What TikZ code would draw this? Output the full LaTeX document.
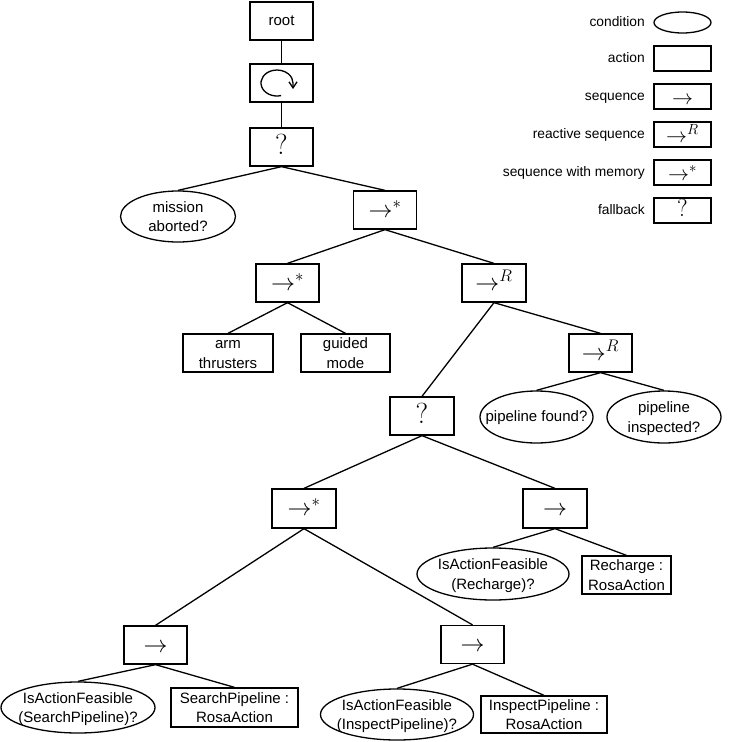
\RequirePackage{fix-cm}
\documentclass[tikz,border=0pt]{standalone}
\usepackage[no-math]{fontspec}
\setmainfont{Liberation Sans}
\usetikzlibrary{shapes.geometric,arrows.meta}

\newcommand{\zb}[2]{\makebox[0pt]{\raisebox{#1}[0pt][0pt]{#2}}}
\newcommand{\tl}[1]{\zb{-5.4pt}{\fontsize{15}{19.4}\selectfont\begin{tabular}{@{}c@{}}#1\end{tabular}}}
\newcommand{\tone}[1]{\zb{-4pt}{\fontsize{15}{19.4}\selectfont\begin{tabular}{@{}c@{}}#1\end{tabular}}}
\newcommand{\tseq}{\zb{-7pt}{\fontsize{24}{24}\selectfont$\rightarrow$}}
\newcommand{\tsm}{\zb{-7pt}{\fontsize{24}{24}\selectfont$\rightarrow^*$}}
\newcommand{\trs}{\zb{-7pt}{\fontsize{24}{24}\selectfont$\rightarrow^R$}}
\newcommand{\tfb}{\zb{-7pt}{\fontsize{29}{29}\selectfont$?$}}
\newcommand{\lseq}{\zb{-8pt}{\fontsize{21}{21}\selectfont$\rightarrow$}}
\newcommand{\lsm}{\zb{-8pt}{\fontsize{21}{21}\selectfont$\rightarrow^*$}}
\newcommand{\lrs}{\zb{-8pt}{\fontsize{21}{21}\selectfont$\rightarrow^R$}}
\newcommand{\lfb}{\zb{-6.2pt}{\fontsize{24.5}{25}\selectfont$?$}}

\tikzset{
  bx/.style n args={2}{draw, rectangle, line width=1.3pt, inner sep=0pt,
    minimum width=#1pt, minimum height=#2pt},
  el/.style n args={2}{draw, ellipse, line width=1.3pt, inner sep=0pt,
    minimum width=#1pt, minimum height=#2pt},
  conn/.style={line width=1.3pt},
  lab/.style={anchor=east, inner sep=0pt, text height=10pt, text depth=3pt,
    font=\fontsize{13.8}{16}\selectfont},
}

\begin{document}
\begin{tikzpicture}[x=1pt,y=1pt]
\useasboundingbox (0,0) rectangle (756,-742);

% tree nodes
\node[bx={63}{38}] (root) at (281.5,-21) {\tone{root}};
\node[bx={63}{38}] (loop) at (281.5,-83) {};
\node[bx={63}{38}] (fb1) at (281.5,-147) {\tfb};
\node[el={115}{51}] (mission) at (178,-216.5) {\tl{mission\\aborted?}};
\node[bx={63}{38}] (sm1) at (385,-210) {\tsm};
\node[bx={63}{38}] (sm2) at (287.5,-283) {\tsm};
\node[bx={90}{38}] (arm) at (228,-353) {\tl{arm\\thrusters}};
\node[bx={89}{38}] (guided) at (345.5,-353) {\tl{guided\\mode}};
\node[bx={64}{38}] (rs1) at (494,-283) {\trs};
\node[bx={63}{38}] (rs2) at (600.5,-353) {\trs};
\node[bx={64}{38}] (fb2) at (422,-416) {\tfb};
\node[el={113}{52}] (found) at (536.5,-417) {\tone{pipeline found?}};
\node[el={114}{52}] (insp) at (664,-417) {\tl{pipeline\\inspected?}};
\node[bx={64}{39}] (sm3) at (304,-508.5) {\tsm};
\node[bx={64}{39}] (seqR) at (555,-508.5) {\tseq};
\node[el={152}{52}] (feasR) at (493,-574) {\tl{IsActionFeasible\\(Recharge)?}};
\node[bx={89}{38}] (rech) at (626.5,-575) {\tl{Recharge :\\RosaAction}};
\node[bx={63}{38}] (seqS) at (155.5,-645) {\tseq};
\node[el={154}{51}] (feasS) at (78,-707.5) {\tl{IsActionFeasible\\(SearchPipeline)?}};
\node[bx={127}{39}] (search) at (234.5,-707.5) {\tl{SearchPipeline :\\RosaAction}};
\node[bx={63}{38}] (seqI) at (472.5,-644.5) {\tseq};
\node[el={153}{51}] (feasI) at (397,-714.5) {\tl{IsActionFeasible\\(InspectPipeline)?}};
\node[bx={126}{37}] (inspA) at (544,-714.5) {\tl{InspectPipeline :\\RosaAction}};

% loop symbol
\draw[line width=1.3pt, -{Straight Barb[length=6pt,width=8pt]}]
  ([shift={(-0.36,-12.56)}]loop.center) arc[start angle=285, end angle=0, x radius=16, y radius=13] -- ++(0,-6);

% connectors
\draw[conn] (root.south) -- (loop.north);
\draw[conn] (loop.south) -- (fb1.north);
\draw[conn] (fb1.south) -- (mission.north);
\draw[conn] (fb1.south) -- (sm1.north);
\draw[conn] (sm1.south) -- (sm2.north);
\draw[conn] (sm1.south) -- (rs1.north);
\draw[conn] (sm2.south) -- (arm.north);
\draw[conn] (sm2.south) -- (guided.north);
\draw[conn] (rs1.south) -- (fb2.north);
\draw[conn] (rs1.south) -- (rs2.north);
\draw[conn] (rs2.south) -- (found.north);
\draw[conn] (rs2.south) -- (insp.north);
\draw[conn] (fb2.south) -- (sm3.north);
\draw[conn] (fb2.south) -- (seqR.north);
\draw[conn] (seqR.south) -- (feasR.north);
\draw[conn] (seqR.south) -- (rech.north);
\draw[conn] (sm3.south) -- (seqS.north);
\draw[conn] (sm3.south) -- (seqI.north);
\draw[conn] (seqS.south) -- (feasS.north);
\draw[conn] (seqS.south) -- (search.north);
\draw[conn] (seqI.south) -- (feasI.north);
\draw[conn] (seqI.south) -- (inspA.north);

% legend
\node[el={57}{21}] (lc) at (682.5,-22.5) {};
\node[bx={57}{25}] (la) at (682.5,-58.5) {};
\node[bx={57}{25}] (ls) at (682.5,-96.5) {\lseq};
\node[bx={57}{25}] (lr) at (682.5,-134.5) {\lrs};
\node[bx={57}{25}] (lm) at (682.5,-172.5) {\lsm};
\node[bx={57}{25}] (lf) at (682.5,-210.5) {\lfb};
\node[lab] (tc) at (645,-22.5) {condition};
\node[lab] (ta) at (645,-58.5) {action};
\node[lab] (ts) at (645,-96.5) {sequence};
\node[lab] (tr) at (645,-134.5) {reactive sequence};
\node[lab] (tm) at (645,-172.5) {sequence with memory};
\node[lab] (tf) at (645,-210.5) {fallback};
\end{tikzpicture}
\end{document}
